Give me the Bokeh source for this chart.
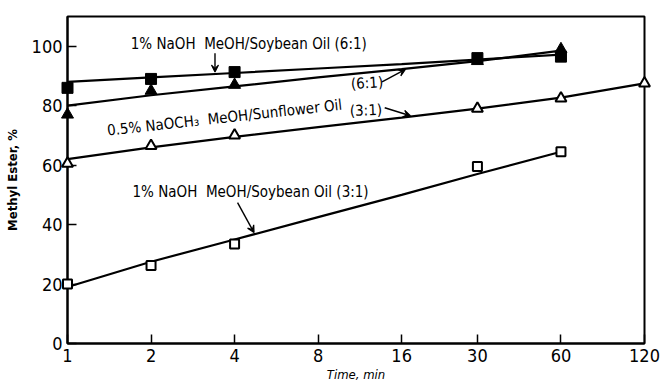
from bokeh.plotting import figure
from bokeh.models import FixedTicker, Arrow, VeeHead, Range1d, PrintfTickFormatter
from bokeh.core.properties import value
from bokeh.embed import file_html
from bokeh.resources import INLINE

FONT = "DejaVu Sans Condensed"

# ---- data ----
time_ticks = [1, 2, 4, 8, 16, 30, 60, 120]
y_ticks = [0, 20, 40, 60, 80, 100]

# 1% NaOH MeOH/Soybean Oil (6:1) - filled squares
soy61_t = [1, 2, 4, 30, 60]
soy61_v = [86, 89, 91.3, 96, 96.5]
soy61_line_t = [1, 2, 4, 8, 16, 30, 60]
soy61_line_v = [88, 89.5, 91, 92.5, 94, 95.5, 97.2]

# 0.5% NaOCH3 MeOH/Sunflower Oil (6:1) - filled triangles
sun61_t = [1, 2, 4, 30, 60]
sun61_v = [77, 85, 87, 95, 99]
sun61_line_t = [1, 2, 4, 8, 16, 30, 60]
sun61_line_v = [80, 83.5, 86.5, 89.5, 92.3, 95, 98.5]

# 0.5% NaOCH3 MeOH/Sunflower Oil (3:1) - open triangles
sun31_t = [1, 2, 4, 30, 60, 120]
sun31_v = [60.5, 66.5, 70, 79, 82.5, 87.5]
sun31_line_t = [1, 2, 4, 8, 16, 30, 60, 120]
sun31_line_v = [62, 66, 69.5, 72.8, 76, 79, 82.7, 87.5]

# 1% NaOH MeOH/Soybean Oil (3:1) - open squares
soy31_t = [1, 2, 4, 30, 60]
soy31_v = [20, 26.2, 33.5, 59.5, 64.5]
soy31_line_t = [1, 2, 4, 8, 16, 30, 60]
soy31_line_v = [19, 27.5, 35, 42.5, 50, 57, 64.5]

# annotation texts
lab_soy61 = "1% NaOH\u00a0 MeOH/Soybean Oil (6:1)"
lab_sun = "0.5% NaOCH\u2083\u00a0 MeOH/Sunflower Oil"
lab_sun61 = "(6:1)"
lab_sun31 = "(3:1)"
lab_soy31 = "1% NaOH\u00a0 MeOH/Soybean Oil (3:1)"

p = figure(width=660, height=387, x_axis_type="log",
           x_range=Range1d(1, 120), y_range=Range1d(0, 110),
           output_backend="svg", toolbar_location=None,
           min_border_left=67, min_border_right=16,
           min_border_top=16, min_border_bottom=44)
p.background_fill_color = "white"
p.border_fill_color = "white"
p.grid.visible = False
p.outline_line_color = "black"
p.outline_line_width = 2

# axes
p.xaxis.ticker = FixedTicker(ticks=time_ticks)
p.xaxis.formatter = PrintfTickFormatter(format="%d")
p.yaxis.ticker = FixedTicker(ticks=y_ticks)
for ax in (p.xaxis[0], p.yaxis[0]):
    ax.axis_line_width = 2
    ax.major_tick_line_width = 1.5
    ax.major_tick_in = 9
    ax.major_tick_out = 0
    ax.minor_tick_line_color = None
    ax.major_label_text_font = FONT
    ax.major_label_text_font_size = "18px"
    ax.major_label_text_color = "black"
    ax.axis_label_text_font = FONT
    ax.axis_label_text_color = "black"
p.xaxis.major_label_standoff = 5
p.yaxis.major_label_standoff = 5
p.xaxis.axis_label = "Time, min"
p.xaxis.axis_label_text_font_style = "italic"
p.xaxis.axis_label_text_font_size = "13px"
p.xaxis.axis_label_standoff = 2
p.yaxis.axis_label = "Methyl Ester, %"
p.yaxis.axis_label_text_font_style = "bold"
p.yaxis.axis_label_text_font_size = "13px"
p.yaxis.axis_label_standoff = 9

# lines
for lt, lv in [(soy61_line_t, soy61_line_v), (sun61_line_t, sun61_line_v),
               (sun31_line_t, sun31_line_v), (soy31_line_t, soy31_line_v)]:
    p.line(lt, lv, line_color="black", line_width=2.2)

# markers
p.scatter(soy61_t, soy61_v, marker="square", size=11, fill_color="black",
          line_color="black", level="overlay")
p.scatter(sun61_t, sun61_v, marker="triangle", size=12, fill_color="black",
          line_color="black", level="overlay")
p.scatter(sun31_t, sun31_v, marker="triangle", size=11, fill_color="white",
          line_color="black", line_width=2, level="overlay")
p.scatter(soy31_t, soy31_v, marker="square", size=9, fill_color="white",
          line_color="black", line_width=2, level="overlay")

# annotation texts
p.text(x=[1.69], y=[100.6], text=[lab_soy61], text_font=value(FONT),
       text_font_size="15px", text_align="left", text_baseline="middle")
p.text(x=[1.39], y=[71.6], text=[lab_sun], text_font=value(FONT),
       text_font_size="15px", text_align="left", text_baseline="alphabetic",
       angle=0.11)
p.text(x=[12.0], y=[87.6], text=[lab_sun61], text_font=value(FONT),
       text_font_size="15px", text_align="center", text_baseline="middle",
       angle=0.06)
p.text(x=[11.9], y=[78.4], text=[lab_sun31], text_font=value(FONT),
       text_font_size="15px", text_align="center", text_baseline="middle",
       angle=0.03)
p.text(x=[1.715], y=[51.1], text=[lab_soy31], text_font=value(FONT),
       text_font_size="15px", text_align="left", text_baseline="middle")

# arrows
def arrow(x0, y0, x1, y1):
    p.add_layout(Arrow(end=VeeHead(size=7, line_color="black", line_width=1.2,
                                   fill_color="black"),
                       x_start=x0, y_start=y0, x_end=x1, y_end=y1,
                       line_width=1.4, line_color="black"))

arrow(3.4, 97.6, 3.4, 91.3)
arrow(13.6, 88.0, 16.5, 92.2)
arrow(13.9, 79.3, 17.2, 76.6)
arrow(4.1, 47.4, 4.7, 37.3)

open("out.html", "w").write(file_html(p, INLINE))
